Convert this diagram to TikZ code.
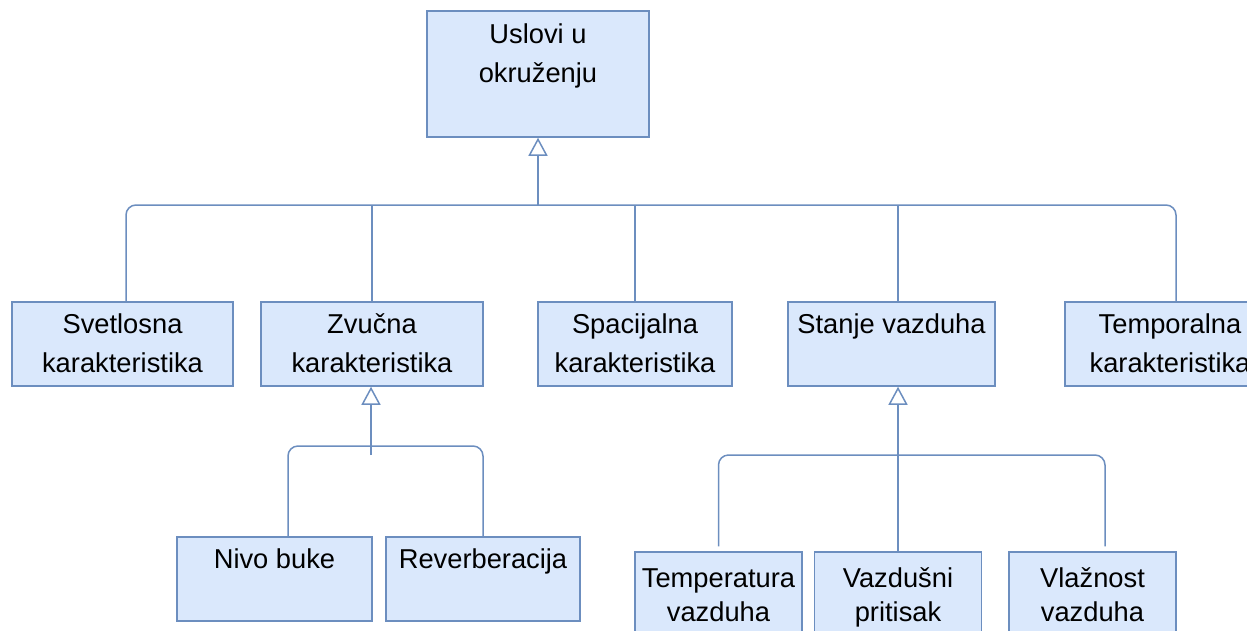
\documentclass[tikz,border=0pt]{standalone}
\usepackage{fontspec}
\setmainfont{Liberation Sans}
\usetikzlibrary{arrows.meta,calc}
\definecolor{boxfill}{HTML}{DAE8FC}
\definecolor{boxline}{HTML}{6C8EBF}
% #1 width, #2 height, #3 first baseline offset, #4 line spacing, #5 text
\newcommand{\boxlabel}[5]{\parbox[c][#2][t]{#1}{\centering\fontsize{27.3}{#4}\selectfont\rule{0pt}{#3}#5}}
\tikzset{
  box/.style={draw=boxline, fill=boxfill, line width=1.5pt, inner sep=0pt, rectangle},
  link/.style={draw=boxline, line width=1.5pt, rounded corners=10pt},
  inh/.style={-{Triangle[open, length=18pt, width=19pt]}},
}
\begin{document}
\begin{tikzpicture}[x=1pt, y=-1pt]
\useasboundingbox (0,0) rectangle (1247,630);

% root
\node[box] (root) at (538,74) {\boxlabel{222pt}{126pt}{32pt}{39pt}{Uslovi u\\okruženju}};

% second level
\node[box] (svet) at (122.5,344) {\boxlabel{221pt}{84pt}{31pt}{39pt}{Svetlosna\\karakteristika}};
\node[box] (zvuc) at (372,344) {\boxlabel{222pt}{84pt}{31pt}{39pt}{Zvučna\\karakteristika}};
\node[box] (spac) at (635,344) {\boxlabel{194pt}{84pt}{31pt}{39pt}{Spacijalna\\karakteristika}};
\node[box] (stanje) at (891.5,344) {\boxlabel{207pt}{84pt}{31pt}{39pt}{Stanje vazduha}};
\node[box] (tmpr) at (1170,344) {\boxlabel{210pt}{84pt}{31pt}{39pt}{Temporalna\\karakteristika}};

% sound children
\node[box] (nivo) at (274.5,579) {\boxlabel{195pt}{84pt}{31pt}{39pt}{Nivo buke}};
\node[box] (reverb) at (483,579) {\boxlabel{194pt}{84pt}{31pt}{39pt}{Reverberacija}};

% air children
\node[box] (temp) at (718.5,594) {\boxlabel{167pt}{84pt}{35pt}{34pt}{Temperatura\\vazduha}};
\node[box] (vazd) at (898,594) {\boxlabel{167pt}{84pt}{35pt}{34pt}{Vazdušni\\pritisak}};
\node[box] (vlaz) at (1092.5,594) {\boxlabel{167pt}{84pt}{35pt}{34pt}{Vlažnost\\vazduha}};

% main bus
\coordinate (b1) at (126,205);
\coordinate (b2) at (1176,205);
\draw[link] (svet.north -| b1) -- (b1) -- (b2) -- (tmpr.north -| b2);
\draw[link] (zvuc.north) -- (zvuc.north |- b1);
\draw[link] (spac.north) -- (spac.north |- b1);
\draw[link] (vazd.north |- stanje.north) -- (vazd.north |- b1);
\draw[link, inh] (root.south |- b1) -- (root.south);

% sound bus
\coordinate (z1) at (288,446);
\coordinate (z2) at (483,446);
\coordinate (zs) at (371,455);
\draw[link] (nivo.north -| z1) -- (z1) -- (z2) -- (reverb.north);
\draw[link, inh] (zs) -- (zs |- zvuc.south);

% air bus
\coordinate (s1) at (718.5,455);
\coordinate (s2) at (1105,455);
\draw[link] ([yshift=5pt]temp.north) -- (s1) -- (s2) -- ([yshift=5pt]vlaz.north -| s2);
\draw[link, inh] (vazd.north) -- (vazd.north |- stanje.south);
\end{tikzpicture}
\end{document}
